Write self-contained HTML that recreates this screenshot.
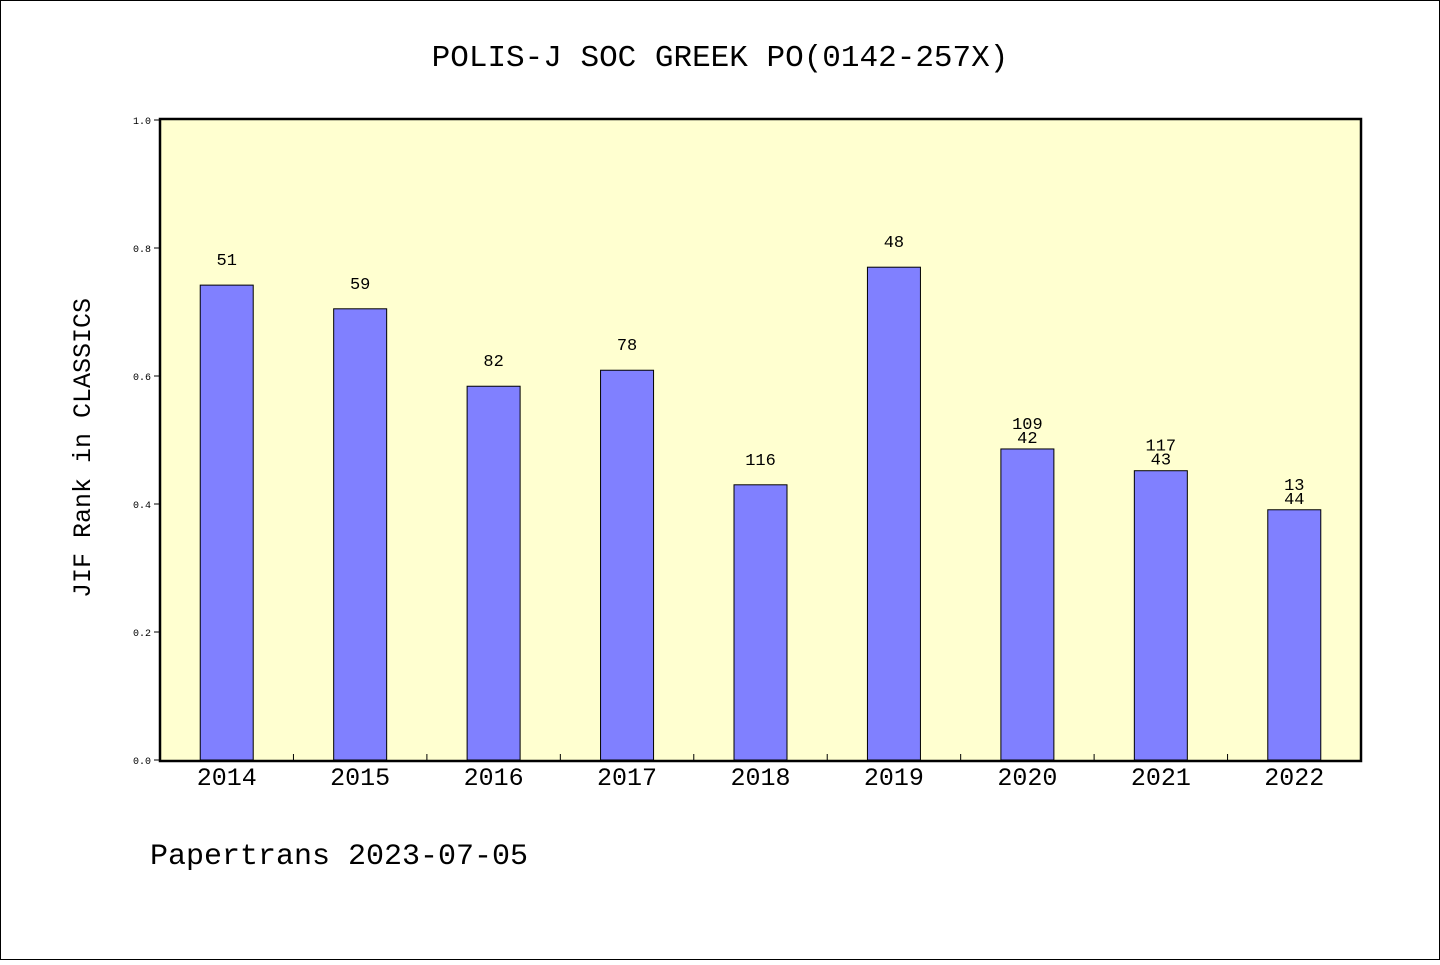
<!DOCTYPE html>
<html><head><meta charset="utf-8"><style>
body{margin:0;background:#fff}
svg text{font-family:"Liberation Mono","WenQuanYi Zen Hei",monospace;fill:#000}
</style></head><body>
<svg width="1440" height="960" viewBox="0 0 1440 960" xmlns="http://www.w3.org/2000/svg">
<rect x="0.5" y="0.5" width="1439" height="959" fill="#fff" stroke="#000"/>
<text x="720" y="66" font-size="31" text-anchor="middle">POLIS-J SOC GREEK PO(0142-257X)</text>
<rect x="160" y="119" width="1201" height="642" fill="#ffffd0"/>
<g id="bars"></g>
<rect x="160" y="119" width="1201" height="642" fill="none" stroke="#000" stroke-width="2.5"/>
<text transform="translate(90,448) rotate(-90)" font-size="25" text-anchor="middle">JIF Rank in CLASSICS</text>
<text x="150" y="864" font-size="30">Papertrans 2023-07-05</text>
</svg>
<script>
const categories=["2014","2015","2016","2017","2018","2019","2020","2021","2022"];
const values=[0.742,0.705,0.584,0.609,0.430,0.770,0.486,0.452,0.391];
const labelsTop=["51","59","82","78","116","48","109","117","13"];
const labelsSecond=["","","","","","","42","43","44"];
const yTicks=[0,0.2,0.4,0.6,0.8,1.0];
const yTickLabels=["0.0","0.2","0.4","0.6","0.8","1.0"];
const NS="http://www.w3.org/2000/svg";
const svg=document.querySelector("svg"),g=document.getElementById("bars");
const X0=160,X1=1361,Y0=760,Y1=120;
const slot=(X1-X0)/categories.length;
const y=v=>Y0-(Y0-Y1)*v;
const xc=i=>X0+slot*(i+0.5);
function mk(t,a,p){const e=document.createElementNS(NS,t);for(const k in a)e.setAttribute(k,a[k]);(p||g).appendChild(e);return e;}
yTicks.forEach((v,i)=>{
 const l=mk("line",{x1:X0-6,x2:X0,y1:y(v),y2:y(v),stroke:"#000"});
 
 
 const t=mk("text",{x:X0-9,y:y(v)+4,"font-size":10,"text-anchor":"end"});
 t.textContent=yTickLabels[i];
 
 
});
categories.forEach((c,i)=>{
 const top=y(values[i]);
 const r=mk("rect",{x:xc(i)-26.5,y:top,width:53,height:Y0-top,fill:"#8080ff",stroke:"#000","stroke-width":1});
 
 
 if(i>0){const tk=mk("line",{x1:X0+slot*i,x2:X0+slot*i,y1:Y0,y2:Y0-6,stroke:"#000"});
  
  }
 const xl=mk("text",{x:xc(i),y:785,"font-size":25,"text-anchor":"middle"});
 xl.textContent=c;
 
 
 if(labelsSecond[i]){
  const a=mk("text",{x:xc(i),y:top-20,"font-size":17,"text-anchor":"middle"});a.textContent=labelsTop[i];
  
  
  const b=mk("text",{x:xc(i),y:top-6,"font-size":17,"text-anchor":"middle"});b.textContent=labelsSecond[i];
  
  
 }else{
  const a=mk("text",{x:xc(i),y:top-20,"font-size":17,"text-anchor":"middle"});a.textContent=labelsTop[i];
  
  
 }
});
</script>
</body></html>
